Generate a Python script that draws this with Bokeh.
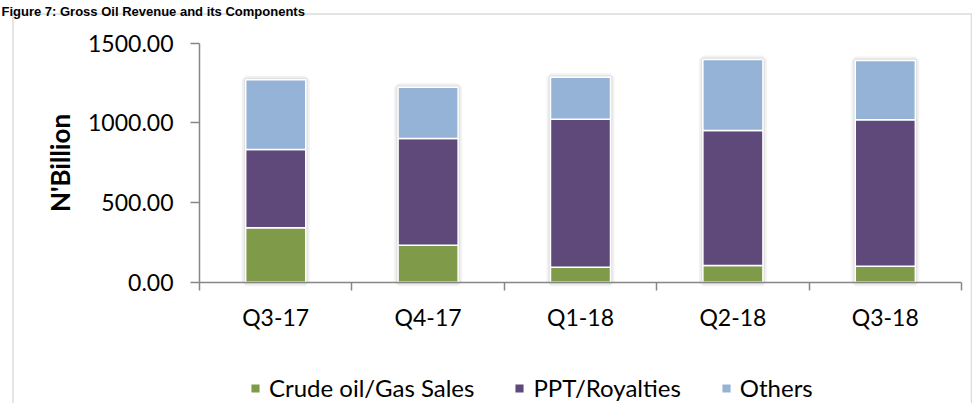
from bokeh.plotting import figure
from bokeh.models import (Range1d, LinearAxis, FixedTicker, BoxAnnotation, Label,
                          NumeralTickFormatter, Legend, LegendItem,
                          ColumnDataSource)
from bokeh.embed import file_html
from bokeh.resources import INLINE

# ---------------- data ----------------
title_text = "Figure 7: Gross Oil Revenue and its Components"
quarters = ["Q3-17", "Q4-17", "Q1-18", "Q2-18", "Q3-18"]
crude_sales = [341, 232, 94, 105, 100]
ppt_royalties = [491, 669, 928, 847, 919]
others = [438, 322, 264, 445, 372]
series_names = ["Crude oil/Gas Sales", "PPT/Royalties", "Others"]
y_ticks = [0, 500, 1000, 1500]
y_label = "N'Billion"

# ---------------- style / layout (pixels) ----------------
colors = ["#7F9A48", "#5F497A", "#95B3D7"]
FONT = "Lato"
AX = "#868686"
BORDER = "#8c8c8c"
W, H = 972, 403
PLOT_L, PLOT_R = 199, 961      # pixel columns of the category axis ends
PLOT_T, PLOT_B = 42.5, 281.7   # pixel rows of y = top tick and y = 0
Y_MAX = y_ticks[-1]

n = len(quarters)
centers = [i + 0.5 for i in range(n)]
edges = list(range(n + 1))
totals = [a + b + c for a, b, c in zip(crude_sales, ppt_royalties, others)]
src = ColumnDataSource(dict(x=centers, crude=crude_sales, ppt=ppt_royalties,
                            oth=others, tot=totals))

# the frame covers the whole canvas; axes are fixed inside it
px_x = (PLOT_R - PLOT_L) / n
px_y = (PLOT_B - PLOT_T) / Y_MAX
x_range = Range1d(-PLOT_L / px_x, n + (W - PLOT_R) / px_x)
y_range = Range1d(-(H - PLOT_B) / px_y, Y_MAX + PLOT_T / px_y)

p = figure(width=W, height=H, x_range=x_range, y_range=y_range, title=None,
           output_backend="svg", toolbar_location=None,
           x_axis_location=None, y_axis_location=None, min_border=0)
p.grid.visible = False
p.outline_line_color = None
p.background_fill_color = "white"
p.border_fill_color = "white"

# y axis
yax = LinearAxis(ticker=FixedTicker(ticks=y_ticks),
                 formatter=NumeralTickFormatter(format="0.00"),
                 axis_label=y_label, fixed_location=0, bounds=(0, Y_MAX))
yax.axis_line_color = AX
yax.axis_line_width = 1.5
yax.major_tick_line_color = AX
yax.major_tick_line_width = 1.5
yax.major_tick_in = 0
yax.major_tick_out = 9
yax.minor_tick_line_color = None
yax.major_label_text_font = FONT
yax.major_label_text_font_size = "23px"
yax.major_label_text_color = "black"
yax.major_label_standoff = 17
yax.axis_label_text_font = FONT
yax.axis_label_text_font_style = "bold"
yax.axis_label_text_font_size = "26px"
yax.axis_label_text_color = "black"
yax.axis_label_standoff = 9
p.add_layout(yax, "left")

# x axis: labels at category centres, ticks at category boundaries
xax = LinearAxis(ticker=FixedTicker(ticks=centers, minor_ticks=edges),
                 major_label_overrides={c: q for c, q in zip(centers, quarters)},
                 fixed_location=0, bounds=(0, n))
xax.axis_line_color = AX
xax.axis_line_width = 1.5
xax.major_tick_line_color = None
xax.major_tick_in = 0
xax.major_tick_out = 8
xax.minor_tick_line_color = AX
xax.minor_tick_line_width = 1.5
xax.minor_tick_in = 0
xax.minor_tick_out = 8
xax.major_label_text_font = FONT
xax.major_label_text_font_size = "23px"
xax.major_label_text_color = "black"
xax.major_label_standoff = 13
p.add_layout(xax, "below")

# soft shadow around bars
p.vbar(x="x", top="tot", width=0.394, source=src, fill_color=None,
       line_color="black", line_alpha=0.05, line_width=8)
p.vbar(x="x", top="tot", width=0.394, source=src, fill_color=None,
       line_color="black", line_alpha=0.07, line_width=4)

rs = p.vbar_stack(["crude", "ppt", "oth"], x="x", width=0.394, source=src,
                  fill_color=colors, line_color="white", line_width=1.5)

legend = Legend(items=[LegendItem(label=nm, renderers=[r]) for nm, r in zip(series_names, rs)],
                orientation="horizontal", location=(249, 1),
                glyph_width=12, glyph_height=12, label_standoff=8, spacing=39,
                padding=0, margin=0, border_line_color=None, background_fill_alpha=0,
                label_text_font=FONT, label_text_font_size="24px",
                label_text_color="black")
p.add_layout(legend, "center")

# outer chart border (top, left, right; bottom lies below the view)
p.add_layout(BoxAnnotation(left=12.5, right=W - 1, top=H - 13.5, bottom=-10,
                           left_units="screen", right_units="screen",
                           top_units="screen", bottom_units="screen",
                           fill_color=None, line_color=BORDER, line_width=1.5))

# title
p.add_layout(Label(x=1, y=H - 10.5, x_units="screen", y_units="screen",
                   text=title_text, text_font="Liberation Sans", text_font_style="bold",
                   text_font_size="13px", text_color="black",
                   text_baseline="alphabetic"))

open("out.html", "w").write(file_html(p, INLINE))
